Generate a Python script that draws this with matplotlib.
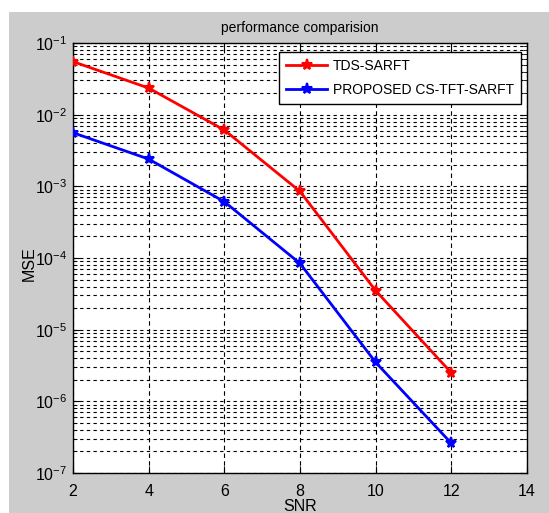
import matplotlib
matplotlib.use("Agg")
import matplotlib.pyplot as plt
from matplotlib.patches import Rectangle
import numpy as np

snr = [2, 4, 6, 8, 10, 12]
mse_tds = [0.055, 0.0235, 0.0061, 0.00085, 3.5e-5, 2.5e-6]
mse_prop = [0.0056, 0.0024, 0.00061, 8.4e-5, 3.5e-6, 2.6e-7]
series_labels = ["TDS-SARFT", "PROPOSED CS-TFT-SARFT"]
x_ticks = [2, 4, 6, 8, 10, 12, 14]

fam = "Liberation Sans"
plt.rcParams['font.family'] = [fam, 'DejaVu Sans']
plt.rcParams['mathtext.fontset'] = 'custom'
plt.rcParams['mathtext.rm'] = fam

fig = plt.figure(figsize=(5.49, 5.13), dpi=100)
fig.patch.set_facecolor('white')
bg = Rectangle((9/549, 0), 1, 1 - 12/513, transform=fig.transFigure,
               facecolor='#cccccc', edgecolor='none', zorder=-10)
fig.add_artist(bg)

ax = fig.add_axes([73/549, 1 - 473/513, (527-73)/549, (473-43)/513])
ax.set_zorder(1)
ax.set_facecolor('white')
ax.set_yscale('log')
ax.set_xlim(2, 14)
ax.set_ylim(1e-7, 1e-1)
ax.set_xticks(x_ticks)

ax.plot(snr, mse_tds, color='red', lw=2, marker='*', ms=8, mew=1.5, label=series_labels[0], zorder=5)
ax.plot(snr, mse_prop, color='blue', lw=2, marker='*', ms=8, mew=1.5, label=series_labels[1], zorder=5)

ax.grid(True, which='major', axis='x', color='black', linestyle=(0, (4, 3)), lw=0.8)
ax.grid(True, which='both', axis='y', color='black', linestyle=(0, (3, 3)), lw=0.8)

ax.tick_params(which='both', direction='in', top=True, right=True, labelsize=11.5, color='black')
ax.tick_params(which='major', length=5)
ax.tick_params(which='minor', length=3)
ax.tick_params(axis='x', which='major', pad=8)
ax.tick_params(axis='y', which='major', pad=4)
for s in ax.spines.values():
    s.set_linewidth(1.0)

ax.set_title("performance comparision", fontsize=10, pad=8)
ax.set_xlabel("SNR", fontsize=11.5, labelpad=0)
ax.set_ylabel("MSE", fontsize=11.5)
ax.yaxis.set_label_coords((37 - 73) / 454, 0.488)

leg = ax.legend(loc='upper right', bbox_to_anchor=((521 - 73) / 454, (473 - 52) / 430),
                borderaxespad=0, fontsize=10, frameon=True, fancybox=False,
                edgecolor='black', framealpha=1, handlelength=3.0, borderpad=0.5,
                labelspacing=0.7, handletextpad=0.4)
leg.get_frame().set_linewidth(1.0)

fig.savefig("out.png", dpi=100, facecolor=fig.get_facecolor())
